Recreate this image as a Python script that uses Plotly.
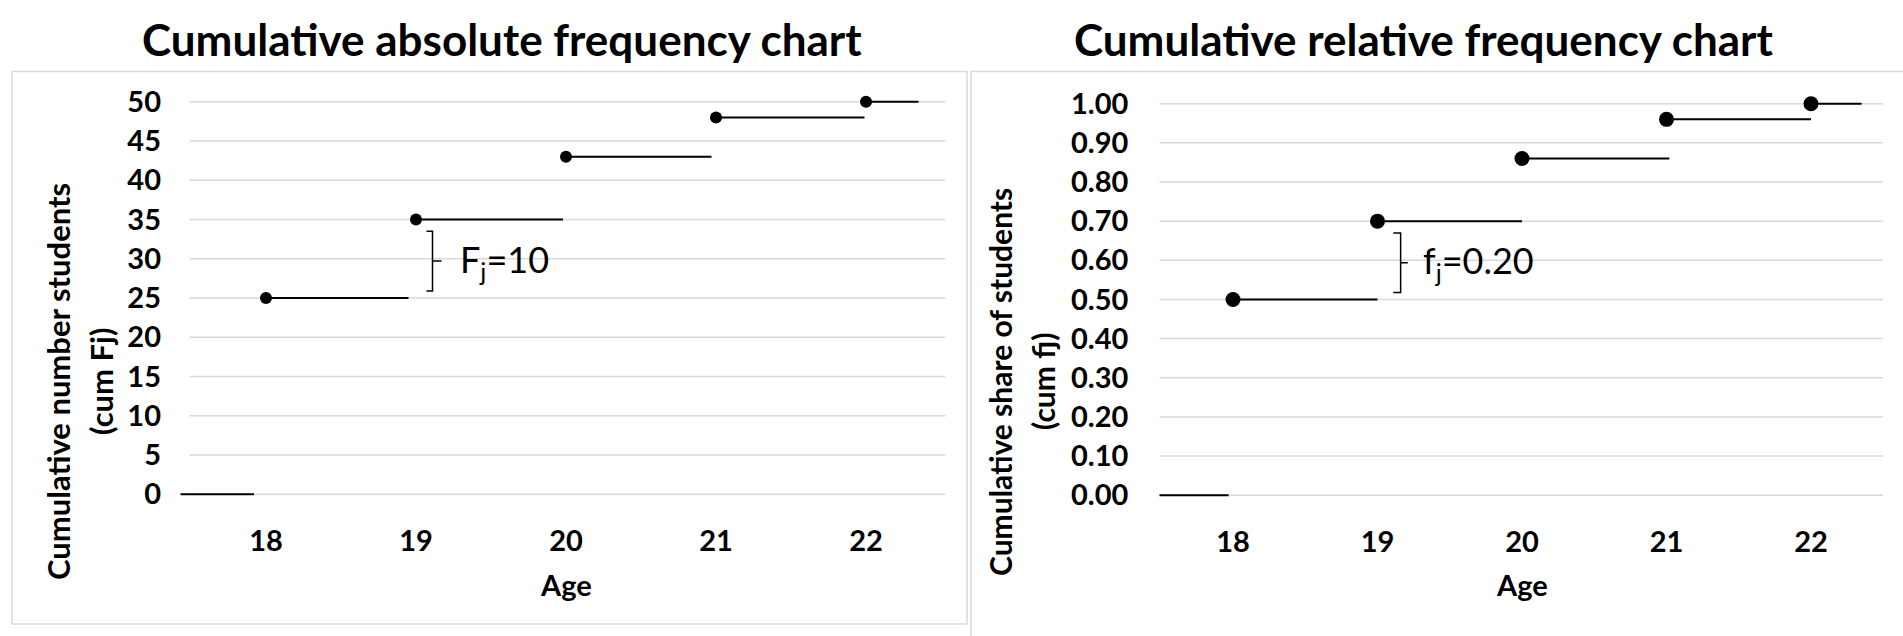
import plotly.graph_objects as go

# ---- data -------------------------------------------------------------
ages = [18, 19, 20, 21, 22]
cum_abs = [25, 35, 43, 48, 50]            # cumulative number of students (Fj)
cum_rel = [0.50, 0.70, 0.86, 0.96, 1.00]  # cumulative share of students (fj)

# right-hand end of each horizontal step
step_end_abs = [18.95, 19.98, 20.97, 21.99, 22.35]
step_end_rel = [19.00, 20.00, 21.02, 22.00, 22.35]

# step below the first age (value 0)
zero_step_abs = [17.43, 17.92]
zero_step_rel = [17.49, 17.97]

abs_ticks = [0, 5, 10, 15, 20, 25, 30, 35, 40, 45, 50]
rel_ticks = [0.0, 0.1, 0.2, 0.3, 0.4, 0.5, 0.6, 0.7, 0.8, 0.9, 1.0]

# ---- page geometry (pixels) --------------------------------------------
W, H = 1903, 636
FONT = "Lato"
GRID = "#d9d9d9"


def px(x):
    return x / W


def py(y):
    return 1 - y / H


fig = go.Figure()


def step_traces(xref, yref, xs, vals, ends, zero_step, msize):
    lx, ly = [], []
    for x, v, e in zip(xs, vals, ends):
        lx += [x, e, None]
        ly += [v, v, None]
    lx += [zero_step[0], zero_step[1]]
    ly += [0, 0]
    fig.add_trace(go.Scatter(x=lx, y=ly, mode="lines", xaxis=xref, yaxis=yref,
                             line=dict(color="black", width=2),
                             hoverinfo="skip", showlegend=False))
    fig.add_trace(go.Scatter(x=xs, y=vals, mode="markers", xaxis=xref, yaxis=yref,
                             marker=dict(color="black", size=msize),
                             cliponaxis=False, showlegend=False))


step_traces("x", "y", ages, cum_abs, step_end_abs, zero_step_abs, 12)
step_traces("x2", "y2", ages, cum_rel, step_end_rel, zero_step_rel, 15)

shapes = []
annotations = []


def grid(xref, yref, ticks, x0, x1):
    for t in ticks:
        shapes.append(dict(type="line", xref=xref, yref=yref, x0=x0, x1=x1,
                           y0=t, y1=t, line=dict(color=GRID, width=1.5),
                           layer="below"))


grid("x", "y", abs_ticks, 17.49, 22.53)
grid("x2", "y2", rel_ticks, 17.49, 22.50)


def brace(xref, yref, lo, hi, xv, hook, tick, label, lx):
    step = hi - lo
    top = hi - 0.15 * step
    bot = lo + 0.09 * step
    mid = (top + bot) / 2
    path = (f"M {xv - hook},{top} L {xv},{top} L {xv},{bot} L {xv - hook},{bot} "
            f"M {xv},{mid} L {xv + tick},{mid}")
    shapes.append(dict(type="path", xref=xref, yref=yref, path=path,
                       line=dict(color="black", width=1.5)))
    annotations.append(dict(xref=xref, yref=yref, x=lx, y=mid, text=label,
                            showarrow=False, xanchor="left", yanchor="middle",
                            font=dict(family=FONT, size=36, color="black")))


brace("x", "y", cum_abs[0], cum_abs[1], 19.11, 0.04, 0.06,
      f"F<sub>j</sub>={cum_abs[1] - cum_abs[0]}", 19.28)
brace("x2", "y2", cum_rel[0], cum_rel[1], 19.16, 0.05, 0.05,
      f"f<sub>j</sub>={cum_rel[1] - cum_rel[0]:.2f}", 19.30)

# panel frames
shapes.append(dict(type="rect", xref="paper", yref="paper",
                   x0=px(12), x1=px(967), y0=py(632), y1=py(66),
                   line=dict(color=GRID, width=1.5), layer="below"))
shapes.append(dict(type="rect", xref="paper", yref="paper",
                   x0=px(971), x1=px(1920), y0=py(650), y1=py(66),
                   line=dict(color=GRID, width=1.5), layer="below"))


def text(x, y, s, size, angle=0, bold=True):
    annotations.append(dict(xref="paper", yref="paper", x=px(x), y=py(y),
                            text=f"<b>{s}</b>" if bold else s, showarrow=False,
                            xanchor="center", yanchor="middle", textangle=angle,
                            font=dict(family=FONT, size=size, color="black")))


# chart titles
text(502, 33, "Cumulative absolute frequency chart", 44)
text(1423, 33, "Cumulative relative frequency chart", 44)
# axis titles
text(58, 384, "Cumulative number students", 31, -90)
text(101, 384, "(cum Fj)", 31, -90)
text(1000, 384, "Cumulative share of students", 30, -90)
text(1043, 384, "(cum fj)", 30, -90)
text(566, 591, "Age", 29)
text(1522, 591, "Age", 29)

tickfont = dict(family=FONT, size=29, color="black", weight="bold")

fig.update_layout(
    width=W, height=H, margin=dict(l=0, r=0, t=0, b=0),
    paper_bgcolor="white", plot_bgcolor="rgba(0,0,0,0)",
    shapes=shapes, annotations=annotations, showlegend=False,
    xaxis=dict(domain=[px(179), px(945.5)], range=[17.42, 22.53],
               tickvals=ages, showgrid=False, zeroline=False, showline=False,
               tickfont=tickfont, ticklabelstandoff=19, fixedrange=True),
    yaxis=dict(domain=[py(507), py(85)], range=[-1.0, 51.5],
               tickvals=abs_ticks, showgrid=False, zeroline=False,
               tickfont=tickfont, ticklabelstandoff=17, fixedrange=True),
    xaxis2=dict(domain=[px(1159.3), px(1883.25)], range=[17.49, 22.5],
                tickvals=ages, showgrid=False, zeroline=False, showline=False,
                tickfont=tickfont, ticklabelstandoff=19, anchor="y2",
                fixedrange=True),
    yaxis2=dict(domain=[py(508), py(87)], range=[-0.02, 1.03],
                tickvals=rel_ticks, tickformat=".2f", showgrid=False,
                zeroline=False, tickfont=tickfont, ticklabelstandoff=30,
                anchor="x2", fixedrange=True),
)

fig.write_html("out.html", config={"displayModeBar": False})
